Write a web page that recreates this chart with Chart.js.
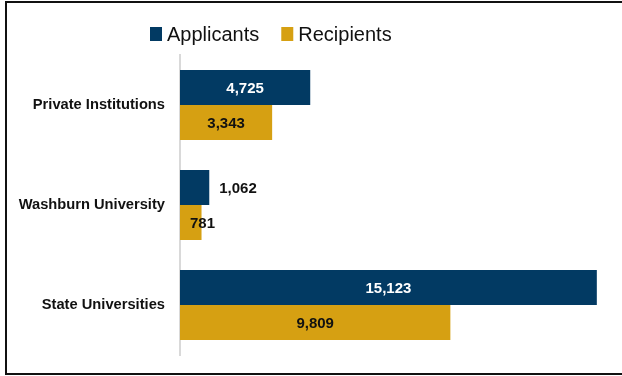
<!DOCTYPE html>
<html>
<head>
<meta charset="utf-8">
<script src="https://cdn.jsdelivr.net/npm/chart.js@4.4.1/dist/chart.umd.min.js"></script>
<style>
  html, body { margin: 0; padding: 0; background: #fff; overflow: hidden; }
  #wrap { position: relative; width: 622px; height: 376px; }
  #chart { position: absolute; left: 0; top: 0; }
  #frame {
    position: absolute; left: 5px; top: 1px; width: 700px; height: 374px;
    box-sizing: border-box; border: 2px solid #111; pointer-events: none;
  }
</style>
</head>
<body>
<div id="wrap">
  <canvas id="chart" width="622" height="376"></canvas>
  <div id="frame"></div>
</div>
<script>
// Data
const categories = ['Private Institutions', 'Washburn University', 'State Universities'];
const seriesNames = ['Applicants', 'Recipients'];
const applicants = [4725, 1062, 15123];
const recipients = [3343, 781, 9809];
const xMax = 16000;

const NAVY = '#023a63';
const GOLD = '#d6a012';
const FONT = '"Liberation Sans", Arial, sans-serif';

// Legend drawn at the top, like the Excel original
const topLegend = {
    id: 'topLegend',
    afterDraw(chart) {
        const ctx = chart.ctx;
        ctx.save();
        ctx.font = '20px ' + FONT;
        ctx.textBaseline = 'alphabetic';
        let x = 150;
        chart.data.datasets.forEach(ds => {
            ctx.fillStyle = ds.backgroundColor;
            ctx.fillRect(x, 27, 12, 14);
            ctx.fillStyle = '#111';
            ctx.fillText(ds.label, x + 17, 41);
            x += 17 + ctx.measureText(ds.label).width + 22;
        });
        ctx.restore();
    }
};

// Value labels on the bars
const barLabels = {
    id: 'barLabels',
    afterDatasetsDraw(chart) {
        const ctx = chart.ctx;
        ctx.save();
        ctx.font = 'bold 15px ' + FONT;
        ctx.textBaseline = 'middle';
        chart.data.datasets.forEach((ds, i) => {
            const meta = chart.getDatasetMeta(i);
            meta.data.forEach((bar, j) => {
                const text = ds.data[j].toLocaleString('en-US');
                const tw = ctx.measureText(text).width;
                const left = bar.base, right = bar.x;
                const w = right - left;
                let x;
                if (tw + 16 <= w) {
                    ctx.textAlign = 'center';
                    ctx.fillStyle = ds.labelColor;
                    x = (left + right) / 2;
                } else if (ds.labelOverflow === 'outside') {
                    ctx.textAlign = 'left';
                    ctx.fillStyle = '#111';
                    x = right + 10;
                } else {
                    ctx.textAlign = 'center';
                    ctx.fillStyle = ds.labelColor;
                    x = Math.max((left + right) / 2, left + tw / 2 + 10);
                }
                ctx.fillText(text, x, bar.y + 1);
            });
        });
        ctx.restore();
    }
};

new Chart(document.getElementById('chart'), {
    type: 'bar',
    data: {
        labels: categories,
        datasets: [
            {
                label: seriesNames[0],
                data: applicants,
                backgroundColor: NAVY,
                labelColor: '#ffffff',
                labelOverflow: 'outside'
            },
            {
                label: seriesNames[1],
                data: recipients,
                backgroundColor: GOLD,
                labelColor: '#111111',
                labelOverflow: 'shift'
            }
        ]
    },
    options: {
        indexAxis: 'y',
        responsive: false,
        animation: false,
        datasets: {
            bar: { categoryPercentage: 0.7, barPercentage: 1.0, borderWidth: 0 }
        },
        layout: { padding: { top: 55, bottom: 21, left: 0, right: 1 } },
        plugins: {
            legend: { display: false },
            tooltip: { enabled: false }
        },
        scales: {
            x: {
                min: 0,
                max: xMax,
                display: false,
                grid: { display: false }
            },
            y: {
                grid: { display: false },
                border: { display: true, color: '#d9d9d9', width: 2 },
                ticks: {
                    color: '#111',
                    padding: 7,
                    font: { family: FONT, size: 14.7, weight: 'bold' }
                },
                afterFit(scale) { scale.width = 180; }
            }
        }
    },
    plugins: [topLegend, barLabels]
});
</script>
</body>
</html>
